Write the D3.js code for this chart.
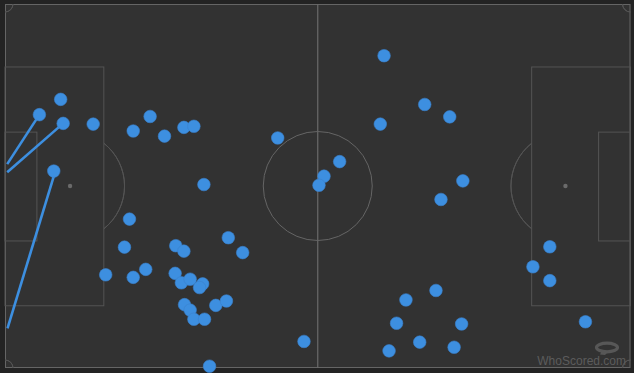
<!DOCTYPE html>
<html>
<head>
<meta charset="utf-8">
<script src="https://cdn.jsdelivr.net/npm/d3@7"></script>
<style>
html,body{margin:0;padding:0;background:#232323;}
svg{display:block;}
</style>
</head>
<body>
<svg id="chart" width="634" height="373"></svg>
<script>
// Event locations on a 0-100 x 0-100 pitch (x: left->right, y: top->bottom)
const eventX = [8.9,5.5,9.3,14.1,20.5,23.2,25.5,28.6,30.2,7.8,31.8,19.9,19.1,16.1,20.5,22.5,27.3,28.6,27.2,28.2,29.6,31.6,31.1,28.7,29.6,30.2,31.9,33.7,35.4,35.7,38.0,32.7,60.6,60.0,43.6,53.5,51.0,50.2,67.1,71.1,73.2,69.7,47.8,64.1,62.6,61.4,66.3,68.9,73.0,71.8,87.1,84.4,87.1,92.8];
const eventY = [26.2,30.4,32.8,33.0,34.9,30.9,36.3,33.9,33.6,45.9,49.6,59.1,66.8,74.4,75.1,72.9,66.4,67.9,74.0,76.6,75.6,76.9,77.9,82.6,84.1,86.6,86.6,82.8,81.6,64.2,68.3,99.5,14.2,33.0,36.8,43.3,47.3,49.8,27.6,31.0,48.6,53.7,92.7,81.3,87.7,95.3,92.9,78.7,87.9,94.3,66.7,72.2,76.0,87.3];
// Lines (passes): start and end points
const lineStartX = [5.5,9.3,8.0];
const lineStartY = [30.4,32.8,46.2];
const lineEndX = [0.35,0.35,0.4];
const lineEndY = [44.0,46.2,89.1];

const svg = d3.select("#chart");
const W = 634, H = 373;
const x0 = 5, x1 = 630.5, y0 = 4, y1 = 368;
const x = d3.scaleLinear().domain([0,100]).range([x0,x1]);
const y = d3.scaleLinear().domain([0,100]).range([y0,y1]);

// background
svg.append("rect").attr("width",W).attr("height",H).attr("fill","#232323");
svg.append("rect").attr("x",x0).attr("y",y0).attr("width",x1-x0).attr("height",y1-y0).attr("fill","#323232");

const pitch = svg.append("g").attr("fill","none");
const lineCol = "#545454";
const lightCol = "#656565";

// outer boundary
pitch.append("rect").attr("x",x0+0.5).attr("y",y0+0.5).attr("width",x1-x0-1).attr("height",y1-y0-1)
  .attr("stroke",lightCol).attr("stroke-width",1);
// halfway line
const cx = x(50), cy = y(50);
pitch.append("line").attr("x1",cx).attr("x2",cx).attr("y1",y0).attr("y2",y1).attr("stroke","#6a6a6a").attr("stroke-width",1.2);
// centre circle
const R = 54.5;
pitch.append("circle").attr("cx",cx).attr("cy",cy).attr("r",R).attr("stroke",lightCol).attr("stroke-width",1);

// boxes
const boxDepth = 15.8, boxTop = 17.3, boxBot = 82.9;
const sixDepth = 5.1, sixTop = 35.2, sixBot = 65.1;
const spot = 10.4;
// left
pitch.append("rect").attr("x",x(0)).attr("y",y(boxTop)).attr("width",x(boxDepth)-x(0)).attr("height",y(boxBot)-y(boxTop)).attr("stroke",lineCol);
pitch.append("rect").attr("x",x(0)).attr("y",y(sixTop)).attr("width",x(sixDepth)-x(0)).attr("height",y(sixBot)-y(sixTop)).attr("stroke",lineCol);
// right
pitch.append("rect").attr("x",x(100-boxDepth)).attr("y",y(boxTop)).attr("width",x(100)-x(100-boxDepth)).attr("height",y(boxBot)-y(boxTop)).attr("stroke",lineCol);
pitch.append("rect").attr("x",x(100-sixDepth)).attr("y",y(sixTop)).attr("width",x(100)-x(100-sixDepth)).attr("height",y(sixBot)-y(sixTop)).attr("stroke",lineCol);
// penalty spots
svg.append("circle").attr("cx",x(spot)).attr("cy",cy).attr("r",2.2).attr("fill","#6a6a6a");
svg.append("circle").attr("cx",x(100-spot)).attr("cy",cy).attr("r",2.2).attr("fill","#6a6a6a");
// penalty arcs (D)
function dArc(sx, edge, dir){
  const dx = Math.abs(edge - sx);
  const a = Math.acos(dx / R);
  const arc = d3.arc().innerRadius(R).outerRadius(R);
  const start = dir > 0 ? Math.PI/2 - a : -Math.PI/2 - a;
  const end = dir > 0 ? Math.PI/2 + a : -Math.PI/2 + a;
  pitch.append("path").attr("transform",`translate(${sx},${cy})`)
    .attr("d", arc({startAngle:start,endAngle:end})).attr("stroke",lineCol).attr("stroke-width",1);
}
dArc(x(spot), x(boxDepth), 1);
dArc(x(100-spot), x(100-boxDepth), -1);
// corner arcs (d3 angles: 0 = up, clockwise)
const cr = 8;
[[x0,y0,Math.PI/2,Math.PI],[x1,y0,Math.PI,1.5*Math.PI],[x1,y1,-Math.PI/2,0],[x0,y1,0,Math.PI/2]].forEach(c=>{
  const arc = d3.arc().innerRadius(cr).outerRadius(cr)({startAngle:c[2],endAngle:c[3]});
  pitch.append("path").attr("transform",`translate(${c[0]},${c[1]})`).attr("d",arc).attr("stroke",lineCol);
});

// watermark
const wm = svg.append("g");
wm.append("ellipse").attr("cx",607).attr("cy",347.5).attr("rx",10.5).attr("ry",4.3)
  .attr("fill","none").attr("stroke","#575757").attr("stroke-width",3.2);
wm.append("path").attr("d","M602,350 L609,351 L605,355 L600,354.5 Z").attr("fill","#575757");
wm.append("text").attr("x",626).attr("y",365).attr("text-anchor","end")
  .attr("font-family","Liberation Sans, Arial, sans-serif").attr("font-size",12)
  .attr("fill","#5c5c5c").text("WhoScored.com");

// passes
const blue = "#3d8fe0";
svg.append("g").selectAll("line").data(d3.range(lineStartX.length)).join("line")
  .attr("x1",i=>x(lineStartX[i])).attr("y1",i=>y(lineStartY[i]))
  .attr("x2",i=>x(lineEndX[i])).attr("y2",i=>y(lineEndY[i]))
  .attr("stroke",blue).attr("stroke-width",2.6);

// events
svg.append("g").selectAll("circle").data(d3.range(eventX.length)).join("circle")
  .attr("cx",i=>x(eventX[i])).attr("cy",i=>y(eventY[i])).attr("r",6.3)
  .attr("fill",blue).attr("stroke","#3a82cc").attr("stroke-width",0.6);
</script>
</body>
</html>
